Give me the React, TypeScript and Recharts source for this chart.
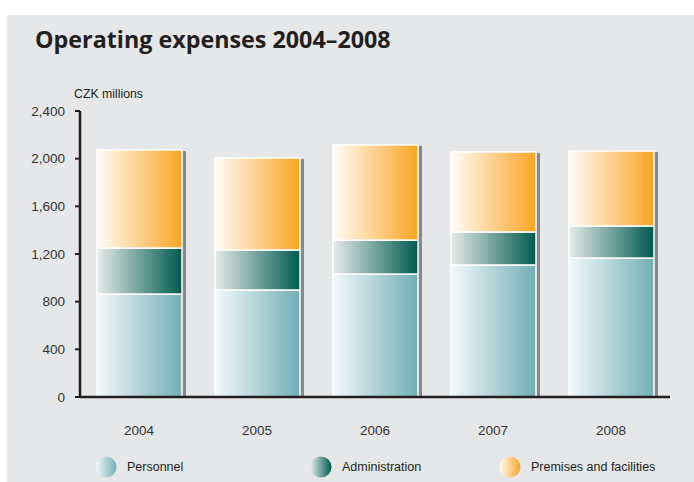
import React from "react";
import { BarChart, Bar, XAxis, YAxis, Legend } from "recharts";

// values in CZK millions
const years = ["2004", "2005", "2006", "2007", "2008"];
const personnel = [864, 898, 1032, 1108, 1166];
const administration = [386, 336, 285, 277, 269];
const premises = [823, 772, 798, 671, 629];
const yTicks = [0, 400, 800, 1200, 1600, 2000, 2400];

const seriesNames = ["Personnel", "Administration", "Premises and facilities"];
const seriesGrads = ["gPers", "gAdm", "gPrem"];

const data = years.map((year, i) => ({
  year,
  personnel: personnel[i],
  administration: administration[i],
  premises: premises[i],
}));

const INK = "#231f20";
const SANS = "'Liberation Sans', Arial, sans-serif";

/**
 * Segment with a left-to-right gradient, white edge and a grey drop strip on the right.
 */
const makeSegment = (gradId: string, isTop: boolean) => (props: any) => {
  const { x, y, width, height } = props;
  if (!height || height <= 0) return <g />;
  return (
    <g>
      <rect
        x={x + width}
        y={isTop ? y + 1 : y}
        width={4}
        height={isTop ? height - 1 : height}
        fill="#878889"
      />
      <rect
        x={x}
        y={y}
        width={width}
        height={height}
        fill={`url(#${gradId})`}
        stroke="#ffffff"
        strokeWidth={1.5}
      />
    </g>
  );
};

const legendSpots = [95, 310, 499];

// drawn in series order (the default legend sorts by name)
const LegendContent = () => (
  <div style={{ position: "relative", width: 694, height: 26 }}>
    {seriesNames.map((name, i) => (
      <div
        key={name}
        style={{
          position: "absolute",
          left: legendSpots[i],
          top: 0,
          display: "flex",
          alignItems: "center",
          height: 24,
        }}
      >
        <svg width={22} height={22} style={{ display: "block" }}>
          <circle cx={11} cy={11} r={10.5} fill={`url(#${seriesGrads[i]})`} />
        </svg>
        <span
          style={{
            marginLeft: 10,
            fontFamily: SANS,
            fontSize: 12.5,
            color: INK,
            whiteSpace: "nowrap",
          }}
        >
          {name}
        </span>
      </div>
    ))}
  </div>
);

const Gradient = ({ id, from, to }: { id: string; from: string; to: string }) => (
  <linearGradient id={id} x1="0" y1="0" x2="1" y2="0">
    <stop offset="0%" stopColor={from} />
    <stop offset="100%" stopColor={to} />
  </linearGradient>
);

const App: React.FC = () => {
  return (
    <div
      style={{
        position: "absolute",
        left: 0,
        top: 0,
        width: 694,
        height: 482,
        background: "#ffffff",
        overflow: "hidden",
      }}
    >
      <svg width={694} height={482} style={{ position: "absolute", left: 0, top: 0 }}>
        <defs>
          <Gradient id="gPers" from="#f3f9fa" to="#72aeb5" />
          <Gradient id="gAdm" from="#e6ebea" to="#005a4f" />
          <Gradient id="gPrem" from="#fffdf8" to="#f9a421" />
        </defs>
        <rect x={7} y={15} width={687} height={467} fill="#e6e7e8" />
        <text
          x={35}
          y={48}
          fontFamily="'Open Sans', 'Noto Sans', sans-serif"
          fontWeight={700}
          fontSize={23.3}
          fill={INK}
        >
          Operating expenses 2004–2008
        </text>
        <text x={74} y={98} fontFamily={SANS} fontSize={12.3} fill={INK}>
          CZK millions
        </text>
      </svg>
      <div style={{ position: "absolute", left: 0, top: 0 }}>
        <BarChart
          width={694}
          height={482}
          data={data}
          margin={{ top: 111, right: 24, bottom: 19, left: 0 }}
          barSize={85}
        >
          <XAxis
            dataKey="year"
            height={40}
            tickLine={false}
            tickSize={6}
            tickMargin={22}
            axisLine={{ stroke: INK, strokeWidth: 2.5 }}
            tick={{ fill: "#333333", fontFamily: SANS, fontSize: 13.5 }}
          />
          <YAxis
            width={80}
            domain={[0, 2400]}
            ticks={yTicks}
            interval={0}
            tickSize={5}
            tickMargin={10}
            tickFormatter={(v: number) => v.toLocaleString("en-US")}
            axisLine={{ stroke: INK, strokeWidth: 2.5 }}
            tickLine={{ stroke: INK, strokeWidth: 2 }}
            tick={{ fill: "#333333", fontFamily: SANS, fontSize: 13.5 }}
          />
          <Legend
            verticalAlign="bottom"
            content={<LegendContent />}
            wrapperStyle={{ position: "absolute", left: 0, top: 455, width: 694 }}
          />
          <Bar
            dataKey="personnel"
            name={seriesNames[0]}
            stackId="a"
            fill="url(#gPers)"
            shape={makeSegment("gPers", false)}
            isAnimationActive={false}
          />
          <Bar
            dataKey="administration"
            name={seriesNames[1]}
            stackId="a"
            fill="url(#gAdm)"
            shape={makeSegment("gAdm", false)}
            isAnimationActive={false}
          />
          <Bar
            dataKey="premises"
            name={seriesNames[2]}
            stackId="a"
            fill="url(#gPrem)"
            shape={makeSegment("gPrem", true)}
            isAnimationActive={false}
          />
        </BarChart>
      </div>
    </div>
  );
};

export default App;
